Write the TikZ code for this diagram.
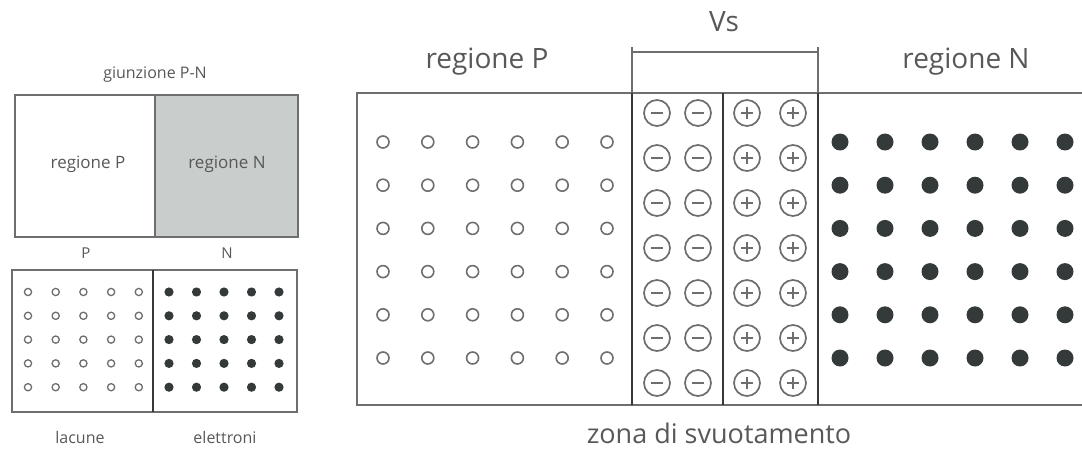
\documentclass[tikz,border=0pt]{standalone}
\usepackage{fontspec}
\setmainfont{Open Sans}
\usetikzlibrary{positioning}

\definecolor{ink}{HTML}{585858}
\definecolor{wall}{HTML}{6E6E6E}
\definecolor{dark}{HTML}{343A3A}
\definecolor{ngray}{HTML}{C9CDCC}

\tikzset{
	box/.style={draw=wall, line width=1.6},
	junction/.style={draw=dark, line width=2.6},
	txt/.style={text=ink, inner sep=0pt},
	hole/.style={draw=wall, line width=1.3},
	electron/.style={fill=dark},
	ion/.style={draw=wall, line width=1.7}
}

\begin{document}
\begin{tikzpicture}[x=1pt,y=-1pt]
	\useasboundingbox (0,0) rectangle (1082,452);

	\coordinate(a) at (15,95);
	\coordinate(b) at (298,237);
	\coordinate(m) at (155,95);
	\coordinate(mb) at (155,237);

	\fill[ngray] (m) rectangle (b);
	\draw[box] (a) rectangle (b);
	\draw[box] (m)--(mb);
	\node[txt, font=\fontsize{16}{18}\selectfont] (giu) at (155,75) {giunzione P-N};
	\node[txt, font=\fontsize{17}{19}\selectfont] (regp) at (88,164) {regione P};
	\node[txt, font=\fontsize{17}{19}\selectfont] (regn) at (227,164) {regione N};
	\node[txt, font=\fontsize{15}{17}\selectfont] (p) at (86,253) {P};
	\node[txt, font=\fontsize{15}{17}\selectfont] (n) at (227,253) {N};

	\coordinate(c) at (12,270);
	\coordinate(d) at (297,412);
	\coordinate(k) at (153,270);
	\coordinate(kb) at (153,412);

	\draw[box] (c) rectangle (d);
	\draw[junction] (k)--(kb);
	\foreach \i in {0,...,4}
		\foreach \j in {0,...,4}{
			\draw[hole] (28+27.7*\i, 292+23.8*\j) circle (3.6);
			\fill[electron] (169+27.5*\i, 292+23.8*\j) circle (4.6);
		}
	\node[txt, font=\fontsize{16}{18}\selectfont] (lac) at (80,437) {lacune};
	\node[txt, font=\fontsize{16}{18}\selectfont] (ele) at (225,437) {elettroni};

	\coordinate(e) at (357,93);
	\coordinate(f) at (357,405);
	\coordinate(g) at (1082,93);
	\coordinate(h) at (1082,405);
	\coordinate(z1) at (632,93);
	\coordinate(z1b) at (632,405);
	\coordinate(z2) at (723,93);
	\coordinate(z2b) at (723,405);
	\coordinate(z3) at (818,93);
	\coordinate(z3b) at (818,405);
	\coordinate(v1) at (632,47);
	\coordinate(v2) at (818,47);

	\draw[box] (g)--(e)--(f)--(h);
	\draw[junction] (z1)--(z1b);
	\draw[junction] (z2)--(z2b);
	\draw[junction] (z3)--(z3b);
	\draw[box, line width=1.2] (v1)--(z1);
	\draw[box, line width=1.2] (v2)--(z3);
	\draw[box, line width=1.2] ([yshift=-5pt]v1)--([yshift=-5pt]v2);

	\foreach \i in {0,...,5}
		\foreach \j in {0,...,5}{
			\draw[hole, line width=1.6] (383+44.8*\i, 142+43.2*\j) circle (6);
			\fill[electron] (840+45*\i, 142+43.2*\j) circle (8.5);
		}
	\foreach \j in {0,...,6}{
		\foreach \x in {657,698}{
			\draw[ion] (\x, 113+45*\j) circle (13);
			\draw[ion] (\x-6, 113+45*\j)--(\x+6, 113+45*\j);
		}
		\foreach \x in {747,793}{
			\draw[ion] (\x, 113+45*\j) circle (13);
			\draw[ion] (\x-6, 113+45*\j)--(\x+6, 113+45*\j);
			\draw[ion] (\x, 107+45*\j)--(\x, 119+45*\j);
		}
	}

	\node[txt, font=\fontsize{28}{32}\selectfont] (mainp) at (487,62) {regione P};
	\node[txt, font=\fontsize{28}{32}\selectfont] (mainn) at (966,62) {regione N};
	\node[txt, font=\fontsize{28}{32}\selectfont] (vs) at (724,22) {Vs};
	\node[txt, font=\fontsize{27}{31}\selectfont] (zona) at (719,433) {zona di svuotamento};
\end{tikzpicture}
\end{document}
